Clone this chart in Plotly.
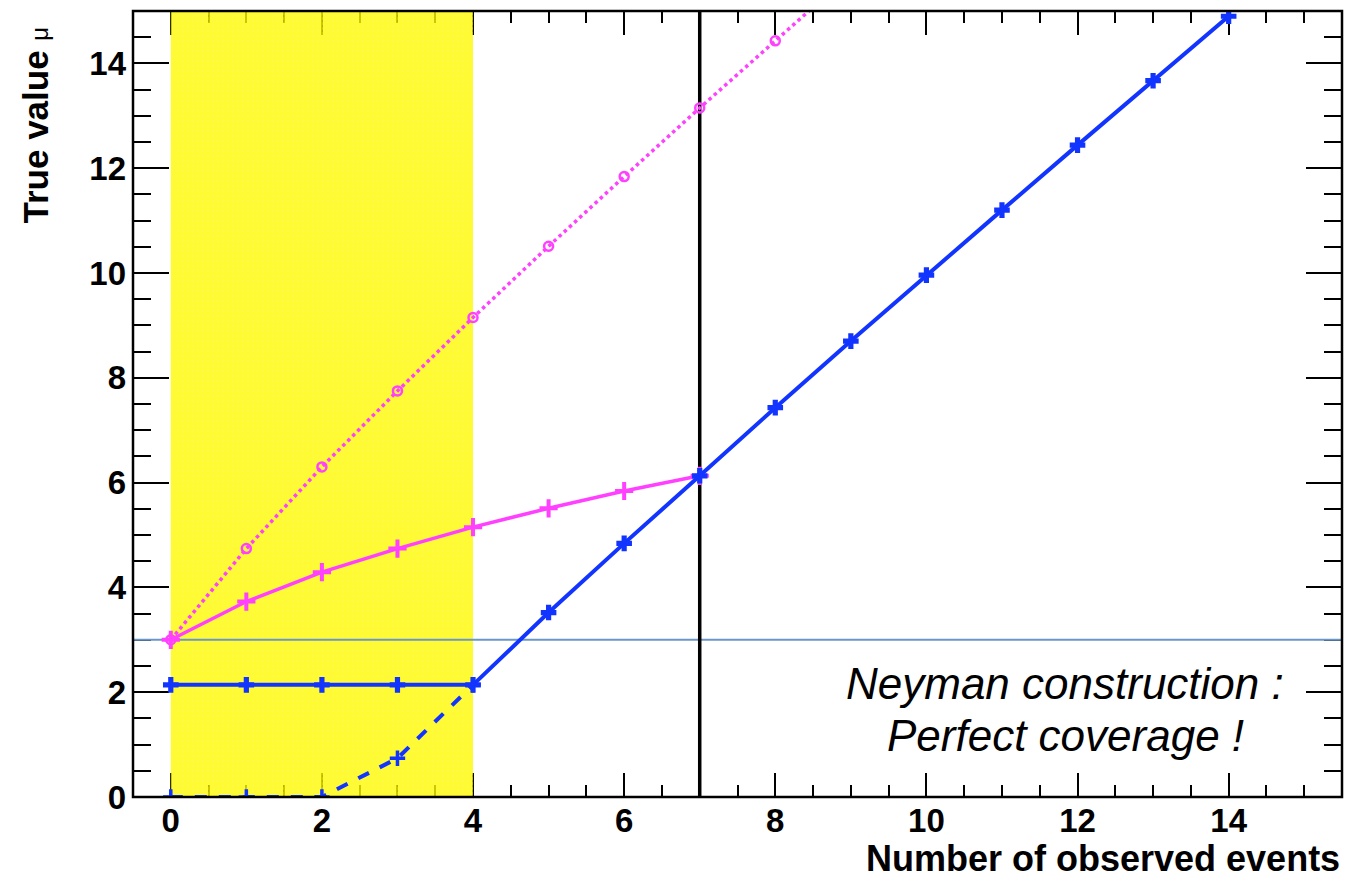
import plotly.graph_objects as go

# Observed event counts
n_obs = [0, 1, 2, 3, 4, 5, 6, 7, 8, 9, 10, 11, 12, 13, 14]

# Upper limit (blue, solid) on the true value
mu_upper = [2.14, 2.14, 2.14, 2.14, 2.14, 3.52, 4.84, 6.13, 7.43, 8.70, 9.96, 11.20, 12.44, 13.67, 14.90]

# Naive subtracted limit (blue, dashed) for the low counts
n_low = [0, 1, 2, 3, 4]
mu_naive = [0.0, 0.0, 0.0, 0.74, 2.14]

# Signal + background upper limit (magenta, solid)
n_sb = [0, 1, 2, 3, 4, 5, 6, 7]
mu_sb = [3.00, 3.73, 4.29, 4.74, 5.15, 5.51, 5.84, 6.13]

# Classical Poisson 95% upper limit (magenta, dotted)
n_pois = [0, 1, 2, 3, 4, 5, 6, 7, 8, 9]
mu_pois = [3.00, 4.74, 6.30, 7.75, 9.15, 10.51, 11.84, 13.15, 14.43, 15.71]

# Shaded low-count region, background level and switching point
band_n = [0, 4]
background = 3.0
n_switch = 7

x_range = [-0.5, 15.5]
y_range = [0, 15]

BLUE = "#1234ff"
MAGENTA = "#ff40ff"
FONT = "Liberation Sans, Arial, Helvetica, sans-serif"

fig = go.Figure()

# yellow hatched band
fig.add_trace(go.Scatter(
    x=[band_n[0], band_n[1], band_n[1], band_n[0], band_n[0]],
    y=[y_range[0], y_range[0], y_range[1], y_range[1], y_range[0]],
    mode="lines", fill="toself", line=dict(width=0),
    fillcolor="rgba(0,0,0,0)",
    fillpattern=dict(shape=".", fgcolor="#ffff00", bgcolor="rgba(255,240,0,0.6)",
                     size=5, solidity=0.85, fillmode="overlay"),
    hoverinfo="skip", showlegend=False))

# background level
fig.add_trace(go.Scatter(
    x=x_range, y=[background, background], mode="lines",
    line=dict(color="#6a97c6", width=2), hoverinfo="skip", showlegend=False))

# switching point
fig.add_trace(go.Scatter(
    x=[n_switch, n_switch], y=y_range, mode="lines",
    line=dict(color="black", width=3.5), hoverinfo="skip", showlegend=False))

# Poisson upper limit
fig.add_trace(go.Scatter(
    x=n_pois, y=mu_pois, mode="lines+markers",
    line=dict(color=MAGENTA, width=3.5, dash="dot"),
    marker=dict(symbol="circle-open", size=9, color=MAGENTA, line=dict(width=2.5)),
    showlegend=False))

# signal + background limit
fig.add_trace(go.Scatter(
    x=n_sb, y=mu_sb, mode="lines+markers",
    line=dict(color=MAGENTA, width=3.5),
    marker=dict(symbol="cross-thin", size=13, color=MAGENTA, line=dict(width=4, color=MAGENTA)),
    showlegend=False))

# naive limit
fig.add_trace(go.Scatter(
    x=n_low, y=mu_naive, mode="lines+markers",
    line=dict(color=BLUE, width=4, dash="dash"),
    marker=dict(symbol="cross-thin", size=11, color=BLUE, line=dict(width=3.5, color=BLUE)),
    showlegend=False))

# upper limit
fig.add_trace(go.Scatter(
    x=n_obs, y=mu_upper, mode="lines+markers",
    line=dict(color=BLUE, width=4),
    marker=dict(symbol="cross", size=13, color=BLUE, line=dict(width=0)),
    showlegend=False))

axis_common = dict(
    showgrid=False, zeroline=False, showline=False,
    ticks="inside", tickcolor="black", tickwidth=2,
    mirror="allticks", layer="below traces",
    tickfont=dict(family=FONT, size=33, color="black", weight="bold"),
)

fig.update_xaxes(range=x_range, dtick=2, tick0=0, ticklen=24,
                 minor=dict(dtick=0.5, ticks="inside", ticklen=12, tickwidth=2, tickcolor="black"),
                 ticklabelstandoff=1, **axis_common)
fig.update_yaxes(range=y_range, dtick=2, tick0=0, ticklen=36,
                 minor=dict(dtick=0.5, ticks="inside", ticklen=18, tickwidth=2, tickcolor="black"),
                 ticklabelstandoff=6, **axis_common)

# frame
fig.add_shape(type="rect", xref="paper", yref="paper", x0=0, x1=1, y0=0, y1=1,
              line=dict(color="black", width=2.5), layer="above")

# axis titles
fig.add_annotation(text="<b>Number of observed events</b>", xref="paper", yref="paper",
                   x=1, y=0, xanchor="right", yanchor="middle", yshift=-61, showarrow=False,
                   font=dict(family=FONT, size=36, color="black"))
fig.add_annotation(text="<b>True value</b> <span style='font-size:24px'>μ</span>",
                   xref="paper", yref="paper", x=0, y=1, xshift=-98, yshift=-14,
                   xanchor="center", yanchor="top", textangle=-90, showarrow=False,
                   font=dict(family=FONT, size=35, color="black"))

# caption
fig.add_annotation(text="<i>Neyman construction :</i>", x=11.84, y=2.16,
                   xanchor="center", yanchor="middle", showarrow=False,
                   font=dict(family=FONT, size=44, color="black"))
fig.add_annotation(text="<i>Perfect coverage !</i>", x=11.84, y=1.18,
                   xanchor="center", yanchor="middle", showarrow=False,
                   font=dict(family=FONT, size=44, color="black"))

fig.update_layout(
    width=1348, height=882, autosize=False,
    margin=dict(l=133, r=6, t=11, b=85),
    paper_bgcolor="white", plot_bgcolor="white",
    showlegend=False,
)

fig.write_html("out.html")
